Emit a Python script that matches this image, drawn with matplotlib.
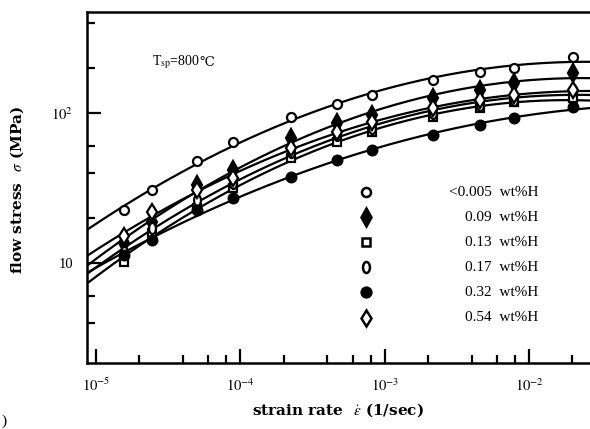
import numpy as np
import matplotlib
matplotlib.use("Agg")
from matplotlib import pyplot as plt
from matplotlib.path import Path
from matplotlib.ticker import LogLocator, NullFormatter, FixedLocator, FixedFormatter

plt.rcParams['font.family'] = ['Liberation Serif', 'DejaVu Serif']
plt.rcParams['mathtext.fontset'] = 'stix'

# strain rate (1/sec), shared by all series
rate = [1.56e-5, 2.44e-5, 5.01e-5, 8.89e-5, 2.24e-4, 4.68e-4, 8.19e-4,
        2.16e-3, 4.58e-3, 7.89e-3, 2.02e-2]

# flow stress (MPa) for each hydrogen content
s_0005 = [22.6, 30.7, 47.9, 64.1, 94.0, 114.8, 131.8, 166, 187.7, 199.5, 236]
s_009 = [13.6, 18.8, 33.1, 41.7, 68.1, 85.8, 97, 126, 142, 158.5, 184.8]
s_013 = [10.2, 15.8, 23.3, 31.6, 50.1, 64.1, 74.7, 94, 108, 118.4, 126]
s_017 = [11.8, 17.1, 26.3, 34.1, 55, 71.3, 79.4, 100, 113, 122, 142]
s_032 = [11.3, 14.2, 22.6, 27.1, 37.4, 48.6, 56.6, 71.3, 83.2, 92.6, 109.6]
s_054 = [15.1, 21.9, 30.7, 36.9, 58.4, 74.7, 87.1, 108, 122, 131.8, 142]

labels = ["<0.005  wt%H", "0.09  wt%H", "0.13  wt%H",
          "0.17  wt%H", "0.32  wt%H", "0.54  wt%H"]

xticks = [1e-5, 1e-4, 1e-3, 1e-2]
xticklabels = [r"$10^{-5}$", r"$10^{-4}$", r"$10^{-3}$", r"$10^{-2}$"]
yticks = [10, 100]
yticklabels = ["10", r"$10^{2}$"]

circ = Path.unit_circle()
oval = Path(circ.vertices * [0.62, 1.0], circ.codes)

# marker, face colour, size
styles = [("o", "white", 6.5), ("d", "black", 9), ("s", "white", 6),
          (oval, "white", 8), ("o", "black", 7), ("d", "white", 8)]
series = [s_0005, s_009, s_013, s_017, s_032, s_054]

fig = plt.figure(figsize=(5.9, 4.29), dpi=100)
ax = fig.add_axes([0.1475, 0.1538, 0.9025, 0.818])
ax.set_xscale("log")
ax.set_yscale("log")
ax.set_xlim(10 ** -5.062, 10 ** -1.373)
ax.set_ylim(10 ** 0.3333, 10 ** 2.673)

xs = np.logspace(-5.062, -1.373, 200)
lx = np.log10(rate)
for s in series:
    c = np.polyfit(lx, np.log10(s), 2)
    ax.plot(xs, 10 ** np.polyval(c, np.log10(xs)), color="black", lw=1.6, zorder=2)

for s, (m, fc, ms) in zip(series, styles):
    ax.plot(rate, s, ls="none", marker=m, mfc=fc, mec="black", mew=1.6,
            ms=ms, zorder=3)

# legend drawn as in the original: markers in a column, labels right aligned
for i, (lab, (m, fc, ms)) in enumerate(zip(labels, styles)):
    yy = 0.487 - i * 0.0715
    ax.plot([0.524], [yy], transform=ax.transAxes, ls="none", marker=m,
            mfc=fc, mec="black", mew=1.8, ms=ms, clip_on=False)
    ax.text(0.847, yy, lab, transform=ax.transAxes, ha="right", va="center",
            fontsize=11)

t1 = ax.text(0.122, 0.857, r"T$_{\rm sp}$=800", transform=ax.transAxes,
             fontsize=10, va="center")
ax.annotate("℃", xy=(0.99, 0.12), xycoords=t1, va="bottom", fontsize=9.5,
            family="DejaVu Serif")

ax.xaxis.set_major_locator(FixedLocator(xticks))
ax.xaxis.set_major_formatter(FixedFormatter(xticklabels))
ax.xaxis.set_minor_locator(LogLocator(base=10, subs=(2, 4, 6, 8)))
ax.xaxis.set_minor_formatter(NullFormatter())
ax.yaxis.set_major_locator(FixedLocator(yticks))
ax.yaxis.set_major_formatter(FixedFormatter(yticklabels))
ax.yaxis.set_minor_locator(LogLocator(base=10, subs=(2, 4, 6)))
ax.yaxis.set_minor_formatter(NullFormatter())

ax.tick_params(which="both", direction="in", width=1.6, labelsize=10.5,
               top=False, right=False)
ax.tick_params(which="major", length=10, pad=10)
ax.tick_params(which="minor", length=6)
for sp in ax.spines.values():
    sp.set_linewidth(1.8)
ax.spines["right"].set_visible(False)

ax.set_xlabel(r"strain rate  $\dot{\varepsilon}$ (1/sec)", fontsize=11,
              fontweight="bold", family="DejaVu Serif")
ax.xaxis.set_label_coords(0.471, -0.108)
ax.set_ylabel(r"flow stress  $\sigma$ (MPa)", fontsize=11,
              fontweight="bold", family="DejaVu Serif")
ax.yaxis.set_label_coords(-0.115, 0.493)
fig.text(0.003, 0.003, ")", ha="left", va="bottom", fontsize=11)

fig.savefig("out.png", dpi=100)
